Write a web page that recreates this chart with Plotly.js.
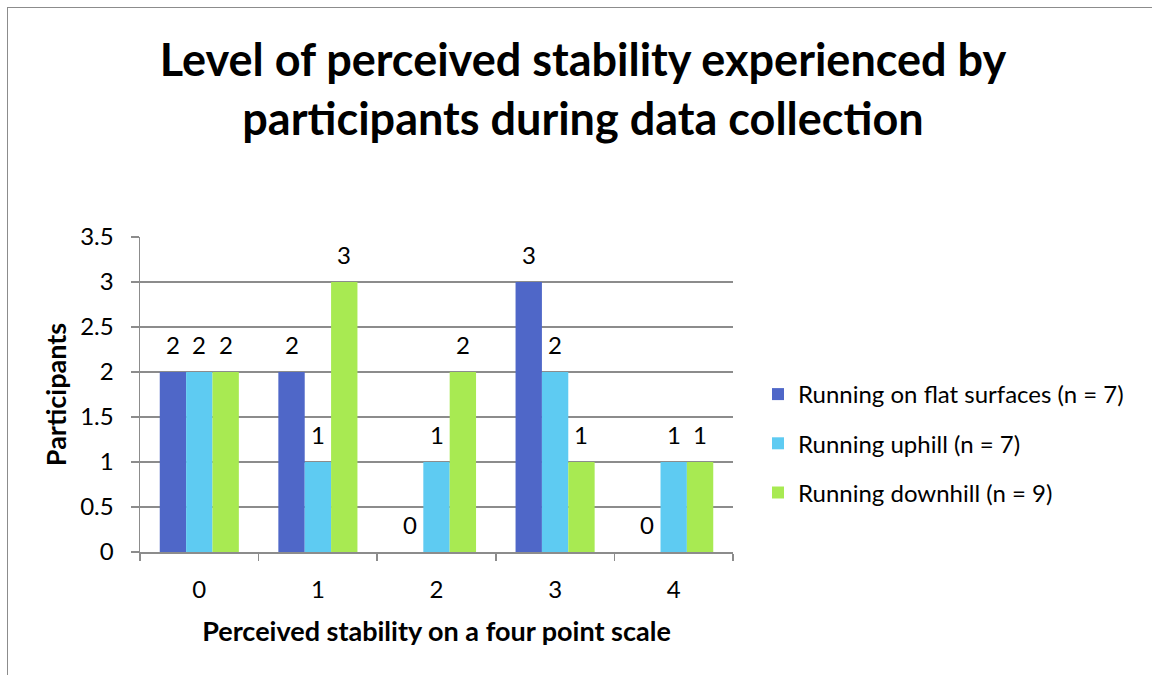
<!DOCTYPE html>
<html>
<head>
<meta charset="utf-8">
<script src="https://cdn.plot.ly/plotly-3.0.1.min.js"></script>
<style>
html,body{margin:0;padding:0;background:#fff;}
#frame{position:absolute;left:7px;top:7px;width:1160px;height:680px;border:1.5px solid #8c8c8c;box-sizing:border-box;}
#chart{position:absolute;left:0;top:0;width:1152px;height:675px;}
</style>
</head>
<body>
<div id="frame"></div>
<div id="chart"></div>
<script>
const categories = ['0', '1', '2', '3', '4'];
const seriesNames = ['Running on flat surfaces (n = 7)', 'Running uphill (n = 7)', 'Running downhill (n = 9)'];
const flatValues = [2, 2, 0, 3, 0];
const uphillValues = [2, 1, 1, 2, 1];
const downhillValues = [2, 3, 2, 1, 1];
const colors = ['#4f67c8', '#5ecbf2', '#a8ea52'];
const yTicks = [0, 0.5, 1, 1.5, 2, 2.5, 3, 3.5];

const FONT = 'Lato, "Open Sans", sans-serif';
const W = 1152, H = 675;
const M = {l: 140, r: 419, t: 237, b: 123};
const BARGAP = 0.333;
const allValues = [flatValues, uphillValues, downhillValues];

const traces = allValues.map((vals, i) => ({
  type: 'bar',
  name: seriesNames[i],
  x: categories,
  y: vals,
  marker: {color: colors[i], line: {width: 0}},
  legendgroup: 'g' + i,
  hoverinfo: 'x+y+name'
}));

// data labels placed over each bar via annotations (bar width from layout scale)
const plotW = W - M.l - M.r;
const barPx = plotW / categories.length * (1 - BARGAP) / allValues.length;
const annotations = [];
allValues.forEach((vals, i) => {
  vals.forEach((v, j) => {
    annotations.push({
      x: categories[j], y: v, xref: 'x', yref: 'y',
      text: String(v), showarrow: false,
      xshift: (i - (allValues.length - 1) / 2) * barPx,
      yshift: 28, yanchor: 'middle', xanchor: 'center',
      font: {family: FONT, size: 24, color: '#000'}
    });
  });
});

const layout = {
  width: W, height: H,
  paper_bgcolor: 'rgba(0,0,0,0)',
  plot_bgcolor: 'rgba(0,0,0,0)',
  margin: M,
  barmode: 'group',
  bargap: BARGAP,
  bargroupgap: 0,
  annotations: annotations,
  title: {
    text: 'Level of perceived stability experienced by<br>participants during data collection',
    font: {family: FONT, size: 45, color: '#000', weight: 'bold'},
    x: 583 / W, xanchor: 'center', xref: 'container',
    y: 1 - 76 / H, yanchor: 'middle', yref: 'container'
  },
  xaxis: {
    type: 'category',
    tickson: 'boundaries',
    ticks: 'outside', ticklen: 7, tickcolor: '#8c8c8c', tickwidth: 1.5,
    showline: true, linecolor: '#8c8c8c', linewidth: 1.5,
    showgrid: false,
    ticklabelstandoff: 16,
    tickfont: {family: FONT, size: 24, color: '#000'},
    title: {text: 'Perceived stability on a four point scale', font: {family: FONT, size: 27, color: '#000', weight: 'bold'}, standoff: 20}
  },
  yaxis: {
    range: [0, 3.5],
    tickvals: yTicks,
    ticktext: yTicks.map(String),
    ticks: 'outside', ticklen: 8, tickcolor: '#8c8c8c', tickwidth: 1.5,
    showline: true, linecolor: '#8c8c8c', linewidth: 1.5,
    showgrid: true, gridcolor: '#8c8c8c', gridwidth: 1.5,
    zeroline: false,
    ticklabelstandoff: 12,
    tickfont: {family: FONT, size: 24, color: '#000'},
    title: {text: 'Participants', font: {family: FONT, size: 27, color: '#000', weight: 'bold'}, standoff: 5}
  },
  legend: {
    x: 758 / W, xanchor: 'left', xref: 'container',
    y: 1 - 372 / H, yanchor: 'top', yref: 'container',
    font: {family: FONT, size: 24, color: '#000'},
    tracegroupgap: 15,
    itemwidth: 30,
    bgcolor: 'rgba(0,0,0,0)'
  },
  showlegend: true
};

Plotly.newPlot('chart', traces, layout, {displayModeBar: false, staticPlot: true});
</script>
</body>
</html>
